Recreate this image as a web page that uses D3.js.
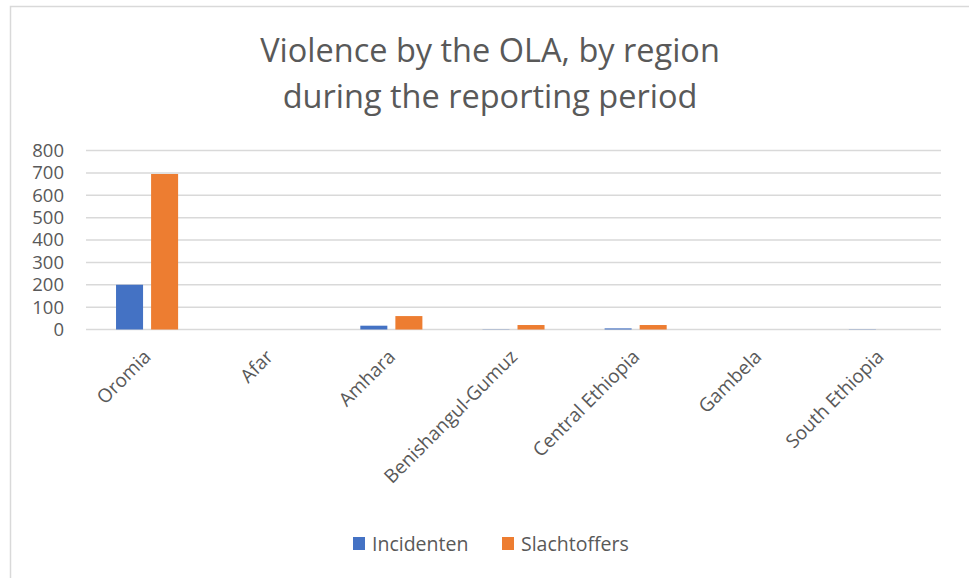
<!DOCTYPE html>
<html>
<head>
<meta charset="utf-8">
<script src="https://cdn.jsdelivr.net/npm/d3@7"></script>
<style>
  body { margin: 0; background: #fff; }
  text { font-family: "Open Sans", "Noto Sans", sans-serif; fill: #595959; }
</style>
</head>
<body>
<svg id="chart" width="969" height="578"></svg>
<script>
var regions = ["Oromia", "Afar", "Amhara", "Benishangul-Gumuz", "Central Ethiopia", "Gambela", "South Ethiopia"];
var incidenten = [200, 0, 17, 1, 5, 0, 1];
var slachtoffers = [695, 0, 60, 20, 20, 0, 0];
var seriesNames = ["Incidenten", "Slachtoffers"];
var seriesColors = ["#4472c4", "#ed7d31"];
var yTicks = [0, 100, 200, 300, 400, 500, 600, 700, 800];

var svg = d3.select("#chart");

// chart frame (clipped on right and bottom like the screenshot)
svg.append("rect")
  .attr("x", 10.5).attr("y", 6.5)
  .attr("width", 1000).attr("height", 600)
  .attr("fill", "#fff")
  .attr("stroke", "#d9d9d9")
  .attr("stroke-width", 1.5);

// title
var title = svg.append("text")
  .attr("text-anchor", "middle")
  .attr("font-size", 32.5);
title.append("tspan").attr("x", 490).attr("y", 62).text("Violence by the OLA, by region");
title.append("tspan").attr("x", 490).attr("y", 108).text("during the reporting period");

var plotLeft = 86, plotRight = 941, plotTop = 150.5, plotBottom = 329.5;

var x = d3.scaleBand().domain(regions).range([plotLeft, plotRight]);
var y = d3.scaleLinear().domain([0, 800]).range([plotBottom, plotTop]);

// gridlines
svg.append("g").selectAll("line")
  .data(yTicks)
  .enter().append("line")
  .attr("x1", plotLeft).attr("x2", plotRight)
  .attr("y1", function(d) {return y(d)})
  .attr("y2", function(d) {return y(d)})
  .attr("stroke", "#d9d9d9")
  .attr("stroke-width", 1.5);

// y labels
svg.append("g").selectAll("text")
  .data(yTicks)
  .enter().append("text")
  .attr("x", 64)
  .attr("y", function(d) {return y(d)})
  .attr("dy", "0.35em")
  .attr("text-anchor", "end")
  .attr("font-size", 18.5)
  .text(function(d) {return d});

// bars: two per region, 27px wide with an 8px gap
var inner = d3.scaleBand().domain([0, 1]).range([0, x.bandwidth()]).paddingInner(0.229).paddingOuter(0.857);
var data = [incidenten, slachtoffers];

data.forEach(function(vals, s) {
  svg.append("g").selectAll("rect")
    .data(vals)
    .enter().append("rect")
    .attr("x", function(d, i) {return x(regions[i]) + inner(s)})
    .attr("y", function(d) {return y(d)})
    .attr("width", inner.bandwidth())
    .attr("height", function(d) {return plotBottom - y(d)})
    .attr("fill", seriesColors[s]);
});

// category labels, rotated
svg.append("g").selectAll("text")
  .data(regions)
  .enter().append("text")
  .attr("text-anchor", "end")
  .attr("font-size", 19)
  .attr("transform", function(d) {
    return "translate(" + (x(d) + x.bandwidth() / 2 + 5) + "," + 358 + ") rotate(-45)";
  })
  .text(function(d) {return d});

// legend
var legendX = [353, 502];
var legend = svg.append("g").selectAll("g")
  .data(seriesNames)
  .enter().append("g")
  .attr("transform", function(d, i) {return "translate(" + legendX[i] + ",537)"});
legend.append("rect")
  .attr("width", 12).attr("height", 13)
  .attr("fill", function(d, i) {return seriesColors[i]});
legend.append("text")
  .attr("x", 19).attr("y", 13)
  .attr("dy", "0.05em")
  .attr("font-size", 19.5)
  .text(function(d) {return d});
</script>
</body>
</html>
